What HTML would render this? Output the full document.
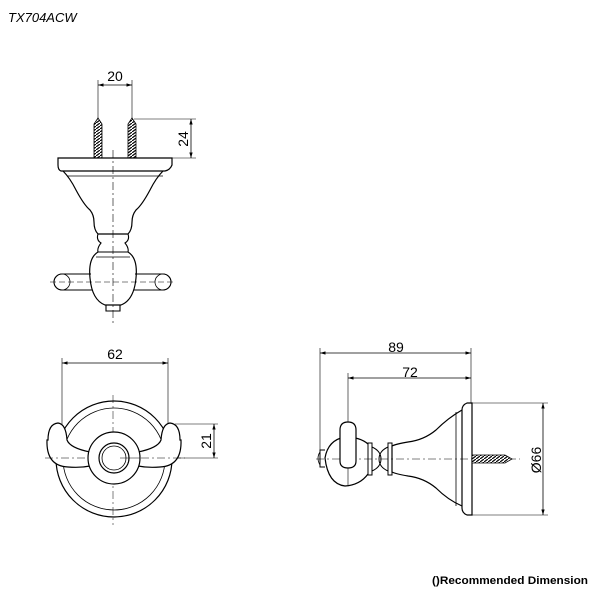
<!DOCTYPE html>
<html><head><style>body{margin:0;background:#fff}svg{display:block}text{font-family:"Liberation Sans",sans-serif;fill:#000}</style></head><body>
<svg width="600" height="600" viewBox="0 0 600 600" xmlns="http://www.w3.org/2000/svg">
<defs>
<marker id="a" viewBox="0 0 10 10" refX="10" refY="5" markerWidth="7" markerHeight="7" orient="auto-start-reverse"><path d="M0,2L10,5L0,8z" fill="#000"/></marker>
<pattern id="th" width="4" height="3" patternUnits="userSpaceOnUse"><rect width="4" height="3" fill="#fff"/><path d="M0,3L4,0" stroke="#000" stroke-width="1.2"/></pattern>
</defs>
<text x="8" y="22" font-size="13" font-style="italic">TX704ACW</text>
<g fill="none" stroke="#000" stroke-width="0.8">
<line x1="113" y1="150" x2="113" y2="325" stroke-dasharray="8,3,2,3" stroke-width="0.6"/>
<line x1="98" y1="80" x2="98" y2="118" stroke-width="0.6"/><line x1="132" y1="80" x2="132" y2="118" stroke-width="0.6"/>
<line x1="98" y1="85" x2="132" y2="85" marker-start="url(#a)" marker-end="url(#a)"/>
<line x1="134" y1="119" x2="196" y2="119" stroke-width="0.6"/><line x1="172" y1="158" x2="196" y2="158" stroke-width="0.6"/>
<line x1="191" y1="119" x2="191" y2="158" marker-start="url(#a)" marker-end="url(#a)"/>
<path d="M94,158V124L98,118L102,124V158z M128,158V124L132,118L136,124V158z" fill="url(#th)"/>
<path d="M58,158H172V165Q170,170 165,171H61Q58,170 58,165z" stroke-width="1.2"/>
<line x1="67" y1="176" x2="163" y2="176"/>
<path d="M63,171Q70,178 76,190Q84,205 90,210Q94,215 94,222Q94,230 98,234H128Q132,230 132,222Q132,215 136,210Q142,205 150,190Q156,178 163,171" stroke-width="1.2"/>
<path d="M98,234Q96,240 101,243Q97,248 98,252H128Q129,248 125,243Q130,240 128,234z" stroke-width="1.1"/>
<path d="M98,252Q88,258 90,278Q92,300 105,305H121Q134,300 136,278Q138,258 128,252" stroke-width="1.2"/>
<line x1="96" y1="257" x2="130" y2="257"/>
<path d="M91,274H62A8,8 0 0 0 62,290H92 M135,274H163A8,8 0 0 1 163,290H134" stroke-width="1.1"/>
<circle cx="62" cy="282" r="8"/><circle cx="163" cy="282" r="8"/>
<line x1="50" y1="282" x2="176" y2="282" stroke-dasharray="6,3" stroke-width="0.5"/>
<path d="M106,305V311H120V305" stroke-width="1.1"/>
<line x1="62" y1="358" x2="62" y2="430" stroke-width="0.6"/><line x1="168" y1="358" x2="168" y2="430" stroke-width="0.6"/>
<line x1="62" y1="363" x2="168" y2="363" marker-start="url(#a)" marker-end="url(#a)"/>
<line x1="175" y1="424" x2="218" y2="424" stroke-width="0.6"/><line x1="140" y1="458" x2="218" y2="458" stroke-width="0.6"/>
<line x1="214" y1="424" x2="214" y2="458" marker-start="url(#a)" marker-end="url(#a)"/>
<circle cx="114" cy="459" r="58" stroke-width="1.2"/>
<circle cx="114" cy="459" r="51"/>
<path d="M48,440Q48,424 58,423Q66,424 67,440Q70,448 90,452L90,466Q80,468 68,467Q46,466 47,440z" fill="#fff" stroke-width="1.2"/>
<path d="M180,440Q180,424 170,423Q162,424 161,440Q158,448 138,452L138,466Q148,468 160,467Q182,466 181,440z" fill="#fff" stroke-width="1.2"/>
<line x1="113" y1="395" x2="113" y2="525" stroke-dasharray="8,3,2,3" stroke-width="0.5"/>
<line x1="45" y1="458" x2="185" y2="458" stroke-dasharray="8,3,2,3" stroke-width="0.5"/>
<circle cx="114" cy="458" r="26" fill="#fff" stroke-width="1.2"/>
<circle cx="114" cy="458" r="15" stroke-width="1.2"/><circle cx="114" cy="458" r="12"/>
<line x1="120" y1="458" x2="140" y2="458" stroke-width="0.5"/>
<line x1="320" y1="348" x2="320" y2="458" stroke-width="0.6"/><line x1="348" y1="373" x2="348" y2="485" stroke-width="0.6"/><line x1="471" y1="348" x2="471" y2="403" stroke-width="0.6"/>
<line x1="320" y1="353" x2="471" y2="353" marker-start="url(#a)" marker-end="url(#a)"/>
<line x1="348" y1="378" x2="471" y2="378" marker-start="url(#a)" marker-end="url(#a)"/>
<line x1="472" y1="403" x2="548" y2="403" stroke-width="0.6"/><line x1="472" y1="515" x2="548" y2="515" stroke-width="0.6"/>
<line x1="543" y1="403" x2="543" y2="515" marker-start="url(#a)" marker-end="url(#a)"/>
<path d="M472,403V515H467Q462,513 462,508V410Q462,405 467,403z" stroke-width="1.2"/>
<line x1="456" y1="412" x2="456" y2="506"/>
<path d="M462,410Q448,418 436,430Q424,440 408,442Q396,444 392,446V472Q396,474 408,476Q424,478 436,488Q448,500 462,506" stroke-width="1.2"/>
<path d="M392,443V475H388V443z M372,443V475H368V443z" stroke-width="1"/>
<path d="M372,447Q381,451 381,459Q381,467 372,471 M388,447Q379,451 379,459Q379,467 388,471" stroke-width="1"/>
<path d="M368,444Q360,437 345,437Q328,440 325,458Q328,484 345,486Q360,485 368,474" stroke-width="1.2"/>
<path d="M325,450H320V467H325" stroke-width="1"/><path d="M320,452Q316,458 320,465"/>
<line x1="316" y1="459" x2="520" y2="459" stroke-dasharray="8,3,2,3" stroke-width="0.5"/>
<path d="M340,430Q340,422 348,422Q356,422 356,430V461Q356,468 348,468Q340,468 340,461z" fill="#fff" stroke-width="1.2"/>
<path d="M472,455H505L512,459L505,463H472z" fill="url(#th)"/>
</g>
<text x="115" y="81" font-size="14" text-anchor="middle">20</text>
<text transform="translate(188,139) rotate(-90)" font-size="14" text-anchor="middle">24</text>
<text x="115" y="359" font-size="14" text-anchor="middle">62</text>
<text transform="translate(211,441) rotate(-90)" font-size="14" text-anchor="middle">21</text>
<text x="396" y="352" font-size="14" text-anchor="middle">89</text>
<text x="410" y="377" font-size="14" text-anchor="middle">72</text>
<text transform="translate(541,460) rotate(-90)" font-size="14" text-anchor="middle">Ø66</text>
<text x="432" y="584" font-size="11" font-weight="bold" textLength="156" lengthAdjust="spacingAndGlyphs">()Recommended Dimension</text>
</svg>
</body></html>
